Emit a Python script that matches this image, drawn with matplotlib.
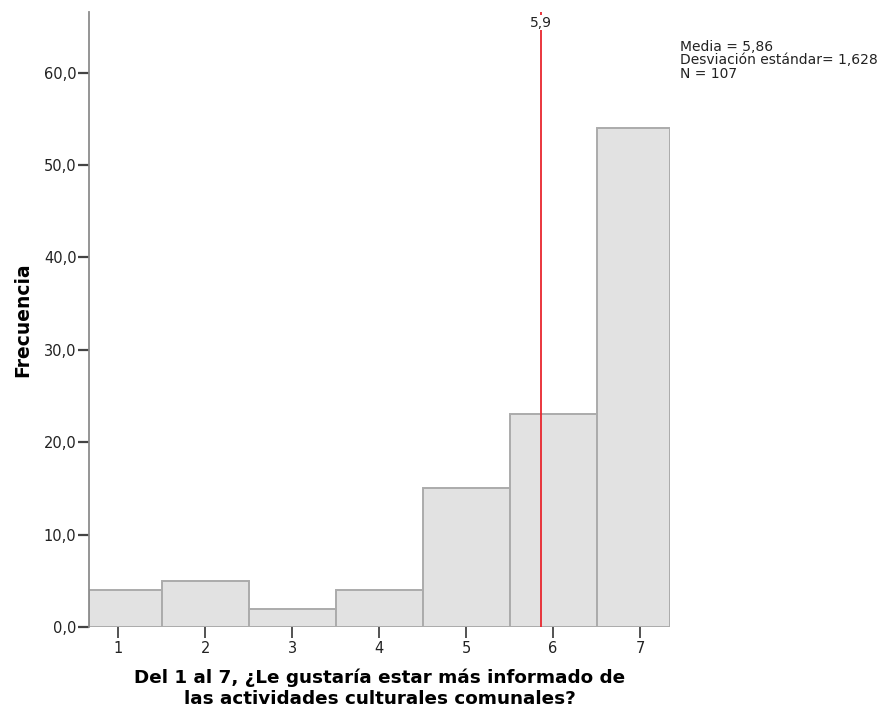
import matplotlib
matplotlib.use('Agg')
import matplotlib.pyplot as plt

# bin centres and counts
categories = [1, 2, 3, 4, 5, 6, 7]
counts = [4, 5, 2, 4, 15, 23, 54]
mean_val = 5.86
mean_label = '5,9'
y_ticks = [0, 10, 20, 30, 40, 50, 60]
y_tick_labels = ['0,0', '10,0', '20,0', '30,0', '40,0', '50,0', '60,0']
stats_text = 'Media = 5,86\nDesviación estándar= 1,628\nN = 107'

fig = plt.figure(figsize=(8.84, 7.15), dpi=100)
ax = fig.add_axes([89 / 884, 88 / 715, 581 / 884, 615 / 715])

xmin, xmax = 0.663, 7.345
# SPSS clips the outer bins at the axis range, so edges show at the limits
lefts = [max(c - 0.5, xmin) for c in categories]
rights = [min(c + 0.5, xmax) for c in categories]
widths = [r - l for l, r in zip(lefts, rights)]
ax.bar(lefts, counts, width=widths, align='edge', color='#e2e2e2',
       edgecolor='#ababab', linewidth=1.4, zorder=2)

# mean line
ax.axvline(mean_val, color='#e8262e', linewidth=1.3, zorder=3)
ax.text(mean_val, 65.4, mean_label, ha='center', va='center', fontsize=10,
        color='#222222', zorder=4,
        bbox=dict(facecolor='white', edgecolor='none', pad=0.5))

ax.set_xlim(xmin, xmax)
ax.set_ylim(0, 66.56)

ax.set_xticks(categories)
ax.set_xticklabels([str(c) for c in categories])
ax.set_yticks(y_ticks)
ax.set_yticklabels(y_tick_labels)

for s in ['top', 'right', 'bottom']:
    ax.spines[s].set_visible(False)
ax.spines['left'].set_color('#8c8c8c')
ax.spines['left'].set_linewidth(1.3)

ax.tick_params(axis='y', direction='out', length=8, width=1.6, color='#444444',
               labelsize=10.5, labelcolor='#222222', pad=1)
ax.tick_params(axis='x', direction='out', length=8, width=1.3, color='#444444',
               labelsize=10.5, labelcolor='#222222', pad=2)

ax.set_ylabel('Frecuencia', fontsize=13.5, fontweight='bold', labelpad=8)
ax.set_xlabel('Del 1 al 7, ¿Le gustaría estar más informado de\nlas actividades culturales comunales?',
              fontsize=13.2, fontweight='bold', labelpad=9, linespacing=1.25)

fig.text(680 / 884, 1 - 40 / 715, stats_text, fontsize=10, va='top', ha='left',
         color='#222222', linespacing=0.95)

fig.savefig('out.png', dpi=100)
